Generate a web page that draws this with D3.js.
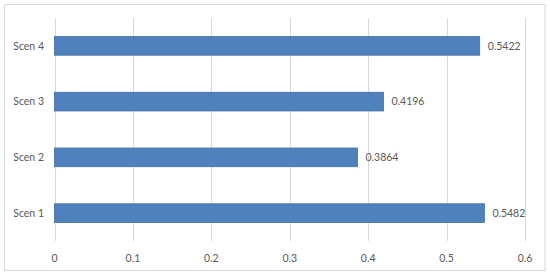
<!DOCTYPE html>
<html><head><meta charset="utf-8">
<script src="https://cdn.jsdelivr.net/npm/d3@7"></script>
<style>body{margin:0;background:#fff}svg{display:block}</style>
</head><body><svg id="c" width="550" height="278"></svg>
<script>
const categories = ["Scen 1","Scen 2","Scen 3","Scen 4"];
const values = [0.5482,0.3864,0.4196,0.5422];
const labels = ["0.5482","0.3864","0.4196","0.5422"];
const xTicks = [0,0.1,0.2,0.3,0.4,0.5,0.6];

const svg = d3.select("#c");
const font = "Lato, 'Open Sans', sans-serif";
svg.append("rect").attr("x",4.5).attr("y",4.5).attr("width",540.5).attr("height",266)
  .attr("fill","#fff").attr("stroke","#d9d9d9").attr("stroke-width",1);

const x = d3.scaleLinear().domain([0,0.6]).range([54.5,525]);
const y = d3.scaleBand().domain(categories.slice().reverse()).range([18,241]).paddingInner(0.665).paddingOuter(0.3325);

const g = svg.append("g");
g.selectAll("line.grid").data(xTicks).join("line").attr("class","grid")
  .attr("x1",d=>Math.round(x(d))+0.5).attr("x2",d=>Math.round(x(d))+0.5)
  .attr("y1",18).attr("y2",241).attr("stroke","#d9d9d9").attr("stroke-width",1);

g.selectAll("text.xt").data(xTicks).join("text").attr("class","xt")
  .attr("x",d=>x(d)).attr("y",262).attr("text-anchor","middle")
  .attr("font-family",font).attr("font-size",10.5).attr("fill","#595959")
  .text(d=>d3.format("")(d));

const data = categories.map((c,i)=>({c,v:values[i],l:labels[i]}));
g.selectAll("rect.bar").data(data).join("rect").attr("class","bar")
  .attr("x",x(0)).attr("y",d=>y(d.c)).attr("width",d=>x(d.v)-x(0)).attr("height",y.bandwidth())
  .attr("fill","#4f81bd").attr("stroke","#3f6ea6").attr("stroke-width",0.8);

g.selectAll("text.cat").data(data).join("text").attr("class","cat")
  .attr("x",44).attr("y",d=>y(d.c)+y.bandwidth()/2).attr("dy","0.35em").attr("text-anchor","end")
  .attr("font-family",font).attr("font-size",10.5).attr("fill","#595959").text(d=>d.c);

g.selectAll("text.val").data(data).join("text").attr("class","val")
  .attr("x",d=>x(d.v)+8).attr("y",d=>y(d.c)+y.bandwidth()/2).attr("dy","0.35em")
  .attr("font-family",font).attr("font-size",10.5).attr("fill","#595959").text(d=>d.l);
</script></body></html>
